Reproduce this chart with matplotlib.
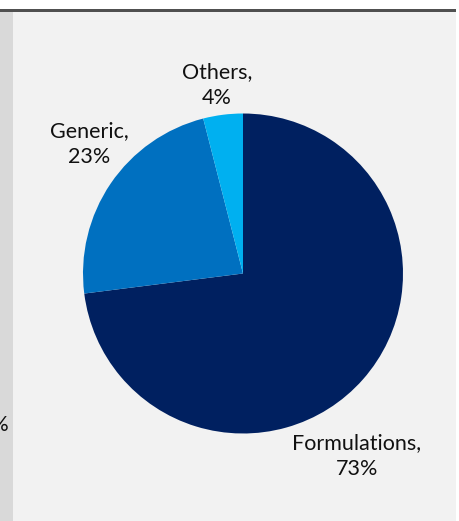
import matplotlib
matplotlib.use("Agg")
import matplotlib.pyplot as plt
from matplotlib.patches import Rectangle

categories = ["Formulations", "Generic", "Others"]
values = [73, 23, 4]
colors = ["#002060", "#0070C0", "#00B0F0"]

W, H = 459, 521
fig = plt.figure(figsize=(W / 100, H / 100), dpi=100)
fig.patch.set_facecolor("white")

def px(x0, y0, w, h):
    return [x0 / W, 1 - (y0 + h) / H, w / W, h / H]

# background panels
bg = fig.add_axes([0, 0, 1, 1])
bg.set_xlim(0, W)
bg.set_ylim(H, 0)
bg.axis("off")
bg.add_patch(Rectangle((0, 10), 13, H - 10, color="#d9d9d9", lw=0))
bg.add_patch(Rectangle((13, 10), 443, H - 10, color="#f2f2f2", lw=0))
bg.add_patch(Rectangle((0, 8.5), 456, 3, color="#505050", lw=0))
bg.text(8, 425, "%", ha="right", va="center", fontsize=15, family="Lato", color="#111111")

# pie
r = 160
cx, cy = 243, 273.5
ax = fig.add_axes(px(cx - r, cy - r, 2 * r, 2 * r))
ax.pie(values, colors=colors, startangle=90, counterclock=False,
       wedgeprops=dict(linewidth=0))
ax.set_xlim(-1, 1)
ax.set_ylim(-1, 1)
ax.set_aspect("equal")

label_pos = [(357, 456), (89, 144), (217, 85)]
for cat, v, (lx, ly) in zip(categories, values, label_pos):
    bg.text(lx, ly, f"{cat},\n{v}%", ha="center", va="center", fontsize=15.5,
            family="Lato", color="#111111", linespacing=1.42)

fig.savefig("out.png", dpi=100, facecolor="white")
